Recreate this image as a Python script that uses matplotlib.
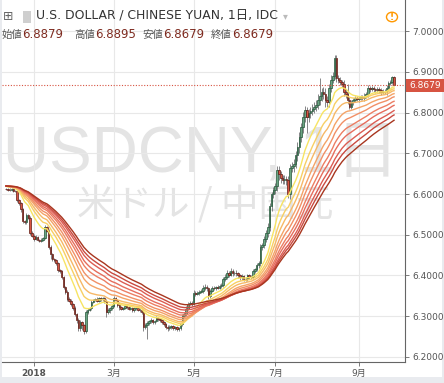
import numpy as np
import pandas as pd
import matplotlib
matplotlib.use("Agg")
import matplotlib.pyplot as plt
from matplotlib.patches import Rectangle, Circle

plt.rcParams['font.family'] = ['DejaVu Sans', 'Noto Sans CJK JP']

# daily bars, USDCNY (IDC)
start_date = "2017-12-11"
end_date = "2018-09-28"
first_open = 6.6130

closes = [
    6.6125, 6.6110, 6.6095, 6.6120, 6.6080, 6.6070, 6.5850, 6.5780, 6.5620, 6.5340,
    6.5300, 6.5480, 6.5420, 6.5050, 6.4980, 6.4890, 6.4950, 6.4880, 6.4850, 6.4880,
    6.4920, 6.5180, 6.5100, 6.4700, 6.4520, 6.4400, 6.4380, 6.4300, 6.4120, 6.4100,
    6.3950, 6.3720, 6.3600, 6.3420, 6.3380, 6.3300, 6.3200, 6.3050, 6.2900, 6.2700,
    6.2850, 6.2780, 6.2620, 6.3100, 6.3150, 6.3200, 6.3350, 6.3400, 6.3420, 6.3380,
    6.3440, 6.3410, 6.3450, 6.3380, 6.3100, 6.3150, 6.3200, 6.3250, 6.3450, 6.3400,
    6.3280, 6.3220, 6.3180, 6.3200, 6.3250, 6.3220, 6.3180, 6.3200, 6.3150, 6.3190,
    6.3200, 6.3160, 6.3150, 6.3100, 6.2720, 6.2780, 6.2830, 6.2870, 6.2900, 6.2850,
    6.2880, 6.2950, 6.2930, 6.2900, 6.2850, 6.2800, 6.2740, 6.2700, 6.2730, 6.2750,
    6.2700, 6.2720, 6.2680, 6.2700, 6.2800, 6.3000, 6.3050, 6.3180, 6.3300, 6.3320,
    6.3300, 6.3570, 6.3550, 6.3570, 6.3600, 6.3620, 6.3700, 6.3720, 6.3680, 6.3500,
    6.3620, 6.3700, 6.3680, 6.3720, 6.3700, 6.3750, 6.3760, 6.3900, 6.3950, 6.4050,
    6.4020, 6.4100, 6.4050, 6.4070, 6.4050, 6.4000, 6.3950, 6.3980, 6.3900, 6.3920,
    6.4000, 6.3960, 6.3950, 6.4100, 6.4150, 6.4250, 6.4300, 6.4700, 6.4750, 6.4900,
    6.5050, 6.5200, 6.5700, 6.6000, 6.6100, 6.6200, 6.6600, 6.6500, 6.6400, 6.6350,
    6.6380, 6.6350, 6.6000, 6.6650, 6.6700, 6.6750, 6.6950, 6.7150, 6.7400, 6.7650,
    6.7900, 6.8070, 6.7900, 6.8000, 6.8050, 6.8100, 6.8150, 6.8200, 6.8300, 6.8400,
    6.8500, 6.8450, 6.8300, 6.8250, 6.8600, 6.8800, 6.8900, 6.9350, 6.8850, 6.8800,
    6.8750, 6.8700, 6.8500, 6.8450, 6.8300, 6.8150, 6.8250, 6.8300, 6.8350, 6.8330,
    6.8350, 6.8380, 6.8350, 6.8400, 6.8450, 6.8600, 6.8580, 6.8600, 6.8570, 6.8550,
    6.8580, 6.8550, 6.8500, 6.8520, 6.8500, 6.8600, 6.8730, 6.8750, 6.8879, 6.8679,
]

# wick lengths beyond the body, in 0.001
wick_up = [
    2, 2, 3, 2, 3, 2, 4, 3, 3, 4,
    3, 5, 3, 4, 3, 3, 4, 3, 2, 3,
    3, 5, 4, 3, 4, 3, 3, 3, 3, 4,
    3, 4, 3, 3, 4, 3, 3, 4, 3, 4,
    5, 4, 3, 5, 4, 3, 4, 3, 3, 4,
    3, 4, 3, 3, 5, 4, 3, 4, 5, 3,
    3, 6, 3, 3, 4, 3, 3, 4, 3, 3,
    3, 4, 3, 3, 4, 5, 4, 3, 4, 3,
    3, 4, 3, 3, 3, 4, 3, 3, 4, 3,
    3, 3, 3, 4, 4, 5, 4, 6, 5, 4,
    4, 6, 5, 4, 5, 4, 6, 6, 5, 4,
    5, 4, 4, 3, 5, 4, 4, 6, 8, 8,
    6, 8, 5, 4, 5, 4, 4, 5, 4, 4,
    4, 3, 4, 5, 4, 5, 5, 6, 5, 6,
    6, 8, 8, 6, 8, 6, 10, 8, 7, 6,
    8, 6, 10, 8, 8, 10, 10, 12, 12, 10,
    12, 10, 8, 10, 8, 12, 10, 12, 15, 45,
    10, 12, 15, 10, 10, 12, 10, 6, 8, 8,
    8, 6, 10, 8, 25, 8, 6, 5, 5, 5,
    6, 5, 5, 8, 6, 8, 6, 5, 5, 4,
    5, 5, 5, 5, 6, 8, 6, 5, 2, 1.6,
]
wick_dn = [
    2, 3, 2, 3, 3, 3, 4, 4, 5, 5,
    4, 3, 4, 5, 4, 4, 3, 4, 4, 3,
    3, 3, 4, 5, 12, 4, 4, 5, 4, 4,
    4, 5, 5, 6, 4, 5, 5, 6, 8, 6,
    6, 12, 6, 4, 4, 3, 4, 3, 4, 4,
    3, 4, 3, 5, 12, 5, 8, 4, 3, 4,
    5, 8, 4, 4, 3, 4, 4, 3, 4, 4,
    4, 3, 4, 5, 10, 5, 35, 5, 4, 4,
    4, 3, 4, 5, 4, 5, 6, 8, 4, 4,
    5, 4, 5, 5, 4, 4, 5, 4, 4, 4,
    5, 4, 5, 4, 5, 4, 5, 6, 6, 8,
    5, 4, 4, 5, 4, 4, 5, 4, 5, 4,
    5, 4, 6, 5, 6, 6, 6, 6, 5, 5,
    5, 5, 5, 4, 5, 5, 6, 6, 8, 8,
    8, 10, 10, 12, 10, 10, 12, 15, 12, 10,
    10, 12, 10, 12, 12, 15, 12, 15, 15, 12,
    15, 12, 40, 12, 12, 10, 10, 10, 12, 10,
    12, 12, 15, 12, 10, 10, 8, 6, 10, 8,
    8, 8, 10, 8, 8, 5, 6, 6, 5, 5,
    6, 5, 5, 6, 5, 6, 6, 5, 6, 6,
    5, 6, 6, 5, 5, 6, 6, 5, 5, 0,
]

ema_periods = [13, 19, 24, 30, 35, 41, 46, 52, 57, 63]
ema_seed = 6.62
ribbon_colors = ['#f7e463', '#f8cf64', '#f6b866', '#f4a367', '#f19066',
                 '#ec7e63', '#e66d5d', '#dc5d53', '#c94a40', '#a8361f']

last_label = ['始値', '6.8879', '高値', '6.8895', '安値', '6.8679', '終値', '6.8679']
last_price = 6.8679
price_ticks = [6.2, 6.3, 6.4, 6.5, 6.6, 6.7, 6.8, 6.9, 7.0]

dates = pd.bdate_range(start_date, end_date)
n = len(closes)
idx = np.arange(n)
c = np.array(closes)
o = np.concatenate([[first_open], c[:-1]])
hi = np.maximum(o, c) + np.array(wick_up) * 0.001
lo = np.minimum(o, c) - np.array(wick_dn) * 0.001
up = c >= o

W, H = 444, 383
fig = plt.figure(figsize=(W / 100, H / 100), dpi=100)
fig.patch.set_facecolor('#e9ebef')
fig.patches.append(Rectangle((2 / W, 6 / H), 440 / W, 1 - 6 / H, transform=fig.transFigure,
                             facecolor='white', edgecolor='none', zorder=-10))

ax = fig.add_axes([2 / W, (H - 362) / H, 403 / W, 362 / H])
ax.set_facecolor('white')
ax.set_xlim(-2.15, 214.9)
ax.set_ylim(6.187, 7.077)

# month ticks
month_pos, month_lab = [], []
for i in range(1, n):
    if dates[i].month != dates[i - 1].month and dates[i].month % 2 == 1:
        month_pos.append(i)
        month_lab.append(str(dates[i].year) if dates[i].month == 1 else f"{dates[i].month}月")

ax.set_xticks(month_pos)
ax.set_xticklabels(month_lab, fontsize=6.5, color='#555555')
for t in ax.get_xticklabels():
    if t.get_text() == '2018':
        t.set_fontweight('bold')
ax.yaxis.tick_right()
ax.set_yticks(price_ticks)
ax.set_yticklabels([f"{v:.4f}" for v in price_ticks], fontsize=6.5, color='#555555')
ax.tick_params(axis='both', length=3, width=0.6, color='#666666', pad=2)
ax.grid(True, color='#e8e8e8', linewidth=0.8, zorder=0)
for s in ['top', 'left']:
    ax.spines[s].set_visible(False)
for s in ['right', 'bottom']:
    ax.spines[s].set_color('#666666')
    ax.spines[s].set_linewidth(0.8)

# watermark
ax.text(0.495, 0.572, 'USDCNY, 1日', transform=ax.transAxes, ha='center', va='center',
        fontsize=46, color='#e4e4e4', zorder=1,
        family=['Liberation Sans', 'Noto Sans CJK JP'])
ax.text(0.504, 0.434, '米ドル / 中国元', transform=ax.transAxes, ha='center', va='center',
        fontsize=27, color='#e4e4e4', zorder=1,
        family=['Noto Sans CJK JP', 'DejaVu Sans'])

# candles
ax.vlines(idx, lo, hi, color='#737375', linewidth=0.6, zorder=3)
body_h = np.maximum(np.abs(c - o), 0.0008)
ax.bar(idx[up], body_h[up], bottom=np.minimum(o, c)[up], width=0.8,
       color='#6ba583', edgecolor='#225437', linewidth=0.5, zorder=3.5)
ax.bar(idx[~up], body_h[~up], bottom=np.minimum(o, c)[~up], width=0.8,
       color='#d75442', edgecolor='#5b1a13', linewidth=0.5, zorder=3.5)

# EMA ribbon
for p, col in zip(ema_periods, ribbon_colors):
    a = 2.0 / (p + 1)
    e = np.empty(n)
    prev = ema_seed
    for i in range(n):
        prev = prev + a * (c[i] - prev)
        e[i] = prev
    ax.plot(idx, e, color=col, linewidth=1.0, zorder=4)

# last price line and label
ax.axhline(last_price, color='#d75442', linewidth=0.8, linestyle=(0, (1, 1.5)), zorder=5)
ypx = ax.transData.transform((0, last_price))[1]
yfig = ypx / H
fig.patches.append(Rectangle((406 / W, yfig - 6.5 / H), 38 / W, 13 / H, transform=fig.transFigure,
                             facecolor='#d75442', edgecolor='none', zorder=5))
fig.text(409 / W, yfig, f"{last_price:.4f}", color='white', fontsize=6.5, va='center', ha='left', zorder=6)


# header
def px(x, y):
    return x / W, 1 - y / H


fig.text(*px(3, 16), '⊞', fontsize=9, color='#666666', va='center', ha='left')
fig.patches.append(Rectangle(px(23, 23), 8 / W, 12 / H, transform=fig.transFigure,
                             facecolor='#cfcfcf', edgecolor='none', zorder=2))
fig.text(*px(36, 16), 'U.S. DOLLAR / CHINESE YUAN, 1日, IDC', fontsize=8.9,
         color='#333333', va='center', ha='left')
fig.text(*px(283, 16), '▾', fontsize=7, color='#bbbbbb', va='center', ha='left')
fig.patches.append(Circle(px(392, 17), 5.5 / W, transform=fig.transFigure,
                          facecolor='none', edgecolor='#ff9800', linewidth=1.0, zorder=2))
fig.text(*px(392, 17), '!', fontsize=6.5, color='#ff9800', va='center', ha='center',
         fontweight='bold')

xs = [2, 22, 74, 95, 142, 163, 211, 232]
for k, (x, s) in enumerate(zip(xs, last_label)):
    col = '#555555' if k % 2 == 0 else '#7e2b20'
    fs = 7.5 if k % 2 == 0 else 8.5
    fig.text(*px(x, 35), s, fontsize=fs, color=col, va='center', ha='left')

fig.savefig('out.png', dpi=100, facecolor=fig.get_facecolor())
